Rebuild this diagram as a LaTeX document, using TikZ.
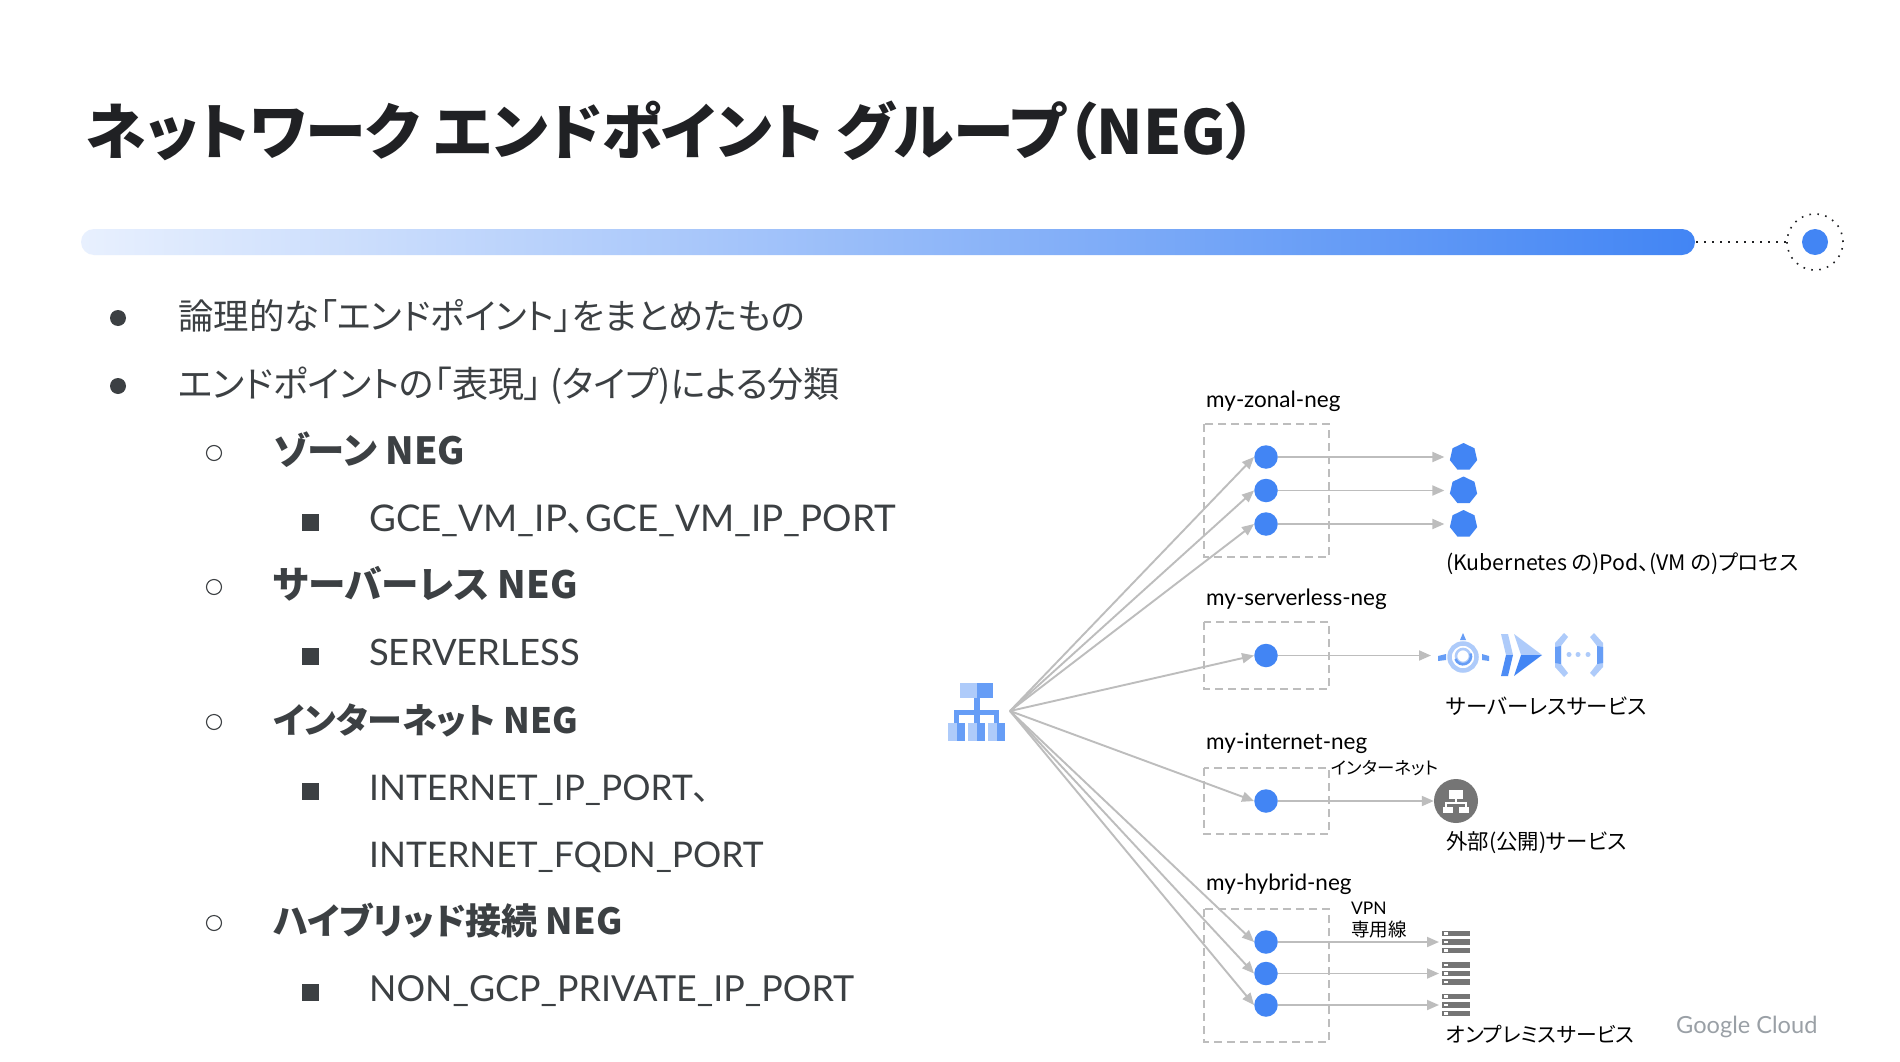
\documentclass[tikz,border=0pt]{standalone}
\usepackage{fontspec}
\setmainfont[RawFeature=+palt]{Noto Sans CJK JP}
\newfontfamily\latinface{Lato}
\usetikzlibrary{arrows.meta,shapes.geometric,calc}
\definecolor{gblue}{HTML}{4285F4}
\definecolor{gmid}{HTML}{669DF6}
\definecolor{glight}{HTML}{AECBFA}
\definecolor{gpale}{HTML}{E8F0FE}
\definecolor{inkdark}{HTML}{202124}
\definecolor{inkbody}{HTML}{3C4043}
\definecolor{wire}{HTML}{BDBDBD}
\definecolor{iconcol}{HTML}{757575}
\definecolor{brandgrey}{HTML}{9AA0A6}
\newcommand{\fpx}[1]{\fontsize{#1pt}{#1pt}\selectfont}
\tikzset{
  x=1pt,y=-1pt,
  bodytext/.style={anchor=base west,inner sep=0pt,text=inkbody,font=\fpx{36}},
  boldtext/.style={anchor=base west,inner sep=0pt,text=inkbody,font=\bfseries\fpx{#1}},
  diagtext/.style={anchor=base west,inner sep=0pt,text=black,font=\fpx{#1}},
  negname/.style={anchor=base west,inner sep=0pt,text=black,font=\latinface\fpx{22.5}},
  negbox/.style={draw=wire,line width=1.3pt,dash pattern=on 8pt off 5pt},
  negdot/.style={circle,fill=gblue,minimum size=23.5pt,inner sep=0pt},
  wirearrow/.style={draw=wire,line width=1.9pt,-{Triangle[length=12pt,width=10pt,fill=wire]}},
  podshape/.style={regular polygon,regular polygon sides=7,fill=gblue,minimum size=28pt,inner sep=0pt},
  bulletdisc/.style={circle,fill=inkbody,minimum size=16pt,inner sep=0pt},
  bulletring/.style={circle,draw=inkbody,line width=1.1pt,minimum size=15pt,inner sep=0pt},
  bulletsquare/.style={rectangle,fill=inkbody,minimum size=17pt,inner sep=0pt},
}
\begin{document}
\begin{tikzpicture}
\useasboundingbox (0,0) rectangle (1900,1062);
\fill[white] (0,0) rectangle (1900,1062);

% heading
\node[anchor=base west,inner sep=0pt,text=inkdark,font=\bfseries\fpx{61}] (title) at (86,154) {ネットワーク エンドポイント グループ（NEG）};

% gradient bar with end marker
\begin{scope}
  \clip[rounded corners=13pt] (81,229) rectangle (1695,255);
  \shade[left color=gpale,right color=gblue] (81,229) rectangle (1695,255);
\end{scope}
\coordinate (barend) at (1696,242);
\node[circle,fill=gblue,minimum size=26pt,inner sep=0pt] (markdot) at (1815,242) {};
\node[circle,draw=inkdark,line width=1.6pt,dash pattern=on 1.6pt off 6.4pt,minimum size=56pt,inner sep=0pt] (markring) at (1815,242) {};
\draw[inkdark,line width=1.6pt,dash pattern=on 1.6pt off 6.4pt] (barend) -- (markring.west);

% bullet list
\node[bulletdisc] (b1) at (118,318) {};
\node[bodytext,font=\fpx{35.4}] (t1) at (178,329) {論理的な「エンドポイント」をまとめたもの};
\node[bulletdisc] (b2) at (118,386) {};
\node[bodytext] (t2) at (178,397) {エンドポイントの「表現」\hspace{8pt}(タイプ)による分類};
\node[bulletring] (c1) at (214,453) {};
\node[boldtext=37.4] (t3) at (273,464) {ゾーン NEG};
\node[bulletsquare] (s1) at (310,522) {};
\node[bodytext,font=\fpx{36.8}] (t4) at (369,531) {{\latinface GCE\_VM\_IP}、{\latinface GCE\_VM\_IP\_PORT}};
\node[bulletring] (c2) at (214,587) {};
\node[boldtext=37.6] (t5) at (273,598) {サーバーレス NEG};
\node[bulletsquare] (s2) at (310,656) {};
\node[bodytext,font=\fpx{36.4}] (t6) at (369,665) {\latinface SERVERLESS};
\node[bulletring] (c3) at (214,722) {};
\node[boldtext=35] (t7) at (273,733) {インターネット NEG};
\node[bulletsquare] (s3) at (310,791) {};
\node[bodytext,font=\fpx{35.3}] (t8) at (369,800) {{\latinface INTERNET\_IP\_PORT}、};
\node[bodytext,font=\fpx{35.3}] (t9) at (369,867) {\latinface INTERNET\_FQDN\_PORT};
\node[bulletring] (c4) at (214,923) {};
\node[boldtext=36] (t10) at (273,934) {ハイブリッド接続 NEG};
\node[bulletsquare] (s4) at (310,992) {};
\node[bodytext,font=\fpx{35.8}] (t11) at (369,1001) {\latinface NON\_GCP\_PRIVATE\_IP\_PORT};

% load balancer icon
\fill[glight] (960,683) rectangle (977,698);
\fill[gmid] (977,683) rectangle (993,698);
\fill[gmid] (974,698) rectangle (979.5,711);
\fill[gmid] (954,710) rectangle (999,715);
\fill[gmid] (954,710) rectangle (959,723);
\fill[gmid] (974,710) rectangle (979.5,723);
\fill[gmid] (994,710) rectangle (999,723);
\foreach \xx in {948,968,988}{
  \fill[glight] (\xx,723) rectangle ++(8.5,18);
  \fill[gmid] (\xx+8.5,723) rectangle ++(8.5,18);
}
\coordinate (hub) at (1010,711);

% NEG boxes
\draw[negbox] (1204,424) rectangle (1329,557);
\draw[negbox] (1204,622) rectangle (1329,689);
\draw[negbox] (1204,768) rectangle (1329,834);
\draw[negbox] (1204,909) rectangle (1329,1042);

\node[negname] (l1) at (1206,407) {my-zonal-neg};
\node[negname] (l2) at (1206,605) {my-serverless-neg};
\node[negname] (l3) at (1206,749) {my-internet-neg};
\node[negname] (l4) at (1206,890) {my-hybrid-neg};

% endpoints
\node[negdot] (z1) at (1266,457) {};
\node[negdot] (z2) at (1266,490.5) {};
\node[negdot] (z3) at (1266,524) {};
\node[negdot] (sl) at (1266,655.5) {};
\node[negdot] (in) at (1266,801) {};
\node[negdot] (h1) at (1266,942) {};
\node[negdot] (h2) at (1266,973.5) {};
\node[negdot] (h3) at (1266,1005) {};

% targets
\node[podshape] (p1) at (1463.5,457) {};
\node[podshape] (p2) at (1463.5,490.5) {};
\node[podshape] (p3) at (1463.5,524) {};
\coordinate (svcin) at (1431,655.5);
\node[circle,fill=iconcol,minimum size=44pt,inner sep=0pt] (ext) at (1456,801) {};
\foreach \yy/\nm in {942/r1,973.5/r2,1005/r3}{
  \coordinate (\nm) at (1439,\yy);
  \foreach \dy in {-11.3,-2.8,5.7}{
    \fill[iconcol] (1442,\yy+\dy) rectangle (1470,\yy+\dy+5.6);
    \fill[white] (1444,\yy+\dy+1.5) rectangle (1447.5,\yy+\dy+4.1);
  }
}

% connectors
\foreach \n in {z1,z2,z3,sl,in,h1,h2,h3}{\draw[wirearrow] (hub) -- (\n.west);}
\draw[wirearrow,shorten >=6pt] (z1) -- (p1);
\draw[wirearrow,shorten >=6pt] (z2) -- (p2);
\draw[wirearrow,shorten >=6pt] (z3) -- (p3);
\draw[wirearrow] (sl) -- (svcin);
\draw[wirearrow] (in) -- (ext);
\draw[wirearrow] (h1) -- (r1);
\draw[wirearrow] (h2) -- (r2);
\draw[wirearrow] (h3) -- (r3);

% network glyph on the external service
\fill[white] (1449,790) rectangle (1463,799);
\fill[white] (1455,799) rectangle (1457,803);
\fill[white] (1445,802) rectangle (1467,804);
\fill[white] (1445,804) rectangle (1447,807);
\fill[white] (1465,804) rectangle (1467,807);
\fill[white] (1443,807) rectangle (1453,813);
\fill[white] (1459,807) rectangle (1469,813);

% serverless product icons
\fill[gmid] (1460,640) -- (1466,640) -- (1463,633) -- cycle;
\fill[gmid] (1438,656) -- (1446,654) -- (1446,660) -- (1438,661) -- cycle;
\fill[gmid] (1482,654) -- (1489,656) -- (1489,661) -- (1482,660) -- cycle;
\draw[glight,line width=4.5pt] (1463,657) circle (13.5pt);
\draw[glight,line width=2.6pt] (1463,656) circle (7pt);
\draw[gmid,line width=2.6pt] (1455.5,659) arc (200:380:8pt);

\fill[glight] (1501,634) -- (1508,634) -- (1513,655) -- (1506,655) -- cycle;
\fill[gblue!70!gmid] (1506,655) -- (1513,655) -- (1508,676) -- (1501,676) -- cycle;
\fill[glight] (1514,634) -- (1542,655) -- (1521,655) -- cycle;
\fill[gblue] (1521,655) -- (1542,655) -- (1514,676) -- cycle;

\fill[glight] (1555,643) -- (1564,633) -- (1568,637) -- (1561,646) -- (1561,664) -- (1568,673) -- (1564,677) -- (1555,667) -- cycle;
\fill[gmid] (1555,647) -- (1561,646) -- (1561,664) -- (1555,663) -- cycle;
\fill[glight] (1603,643) -- (1594,633) -- (1590,637) -- (1597,646) -- (1597,664) -- (1590,673) -- (1594,677) -- (1603,667) -- cycle;
\fill[gmid] (1603,647) -- (1597,646) -- (1597,664) -- (1603,663) -- cycle;
\foreach \xx in {1569,1578,1588}{\fill[glight] (\xx,654.5) circle (2.5pt);}

% captions
\node[diagtext=21.3] (cap1) at (1446,570) {(Kubernetes の)Pod、(VM の)プロセス};
\node[diagtext=21.4] (cap2) at (1446,714) {サーバーレスサービス};
\node[diagtext=21.4] (cap3) at (1446,849) {外部(公開)サービス};
\node[diagtext=20.8] (cap4) at (1446,1042) {オンプレミスサービス};
\node[diagtext=17.4] (via1) at (1331,774) {インターネット};
\node[diagtext=17.4] (via2) at (1351,914) {\latinface VPN};
\node[diagtext=18.5] (via3) at (1351,936) {専用線};

% wordmark
\node[anchor=base west,inner sep=0pt,text=brandgrey,font=\latinface\fpx{23.6}] (brand) at (1676,1033) {Google Cloud};
\end{tikzpicture}
\end{document}
